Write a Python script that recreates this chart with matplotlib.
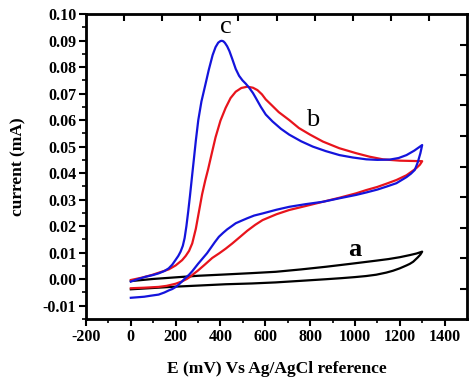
import numpy as np
import matplotlib
matplotlib.use("Agg")
import matplotlib.pyplot as plt

# ---- data ----
blue_E = [0, 30, 65, 100, 124, 150, 169, 185, 199, 212, 222, 232, 240, 248, 256, 264, 274, 281, 290, 301,
          315, 333, 348, 365, 378, 390, 400, 406, 413, 420, 430, 440, 452, 468, 483, 498, 513, 528, 545,
          558, 580, 602, 632, 670, 707, 760, 812, 870, 931, 990, 1051, 1100, 1155, 1195, 1230, 1265, 1300,
          1292, 1280, 1267, 1250, 1230, 1185, 1140, 1100, 1050, 1006, 930, 857, 780, 707, 650, 588, 550,
          520, 495, 468, 450, 430, 412, 393, 375, 360, 340, 320, 300, 287, 274, 260, 244, 229, 214, 199,
          185, 170, 150, 124, 90, 60, 30, 0]
blue_I = [-0.0009, 0.0000, 0.0009, 0.0016, 0.0022, 0.0031, 0.0041, 0.0055, 0.0072, 0.0088, 0.0104, 0.0126,
          0.0155, 0.0200, 0.0255, 0.0315, 0.0395, 0.0450, 0.0522, 0.0600,
          0.0670, 0.0735, 0.0790, 0.0845, 0.0875, 0.0892, 0.0898, 0.0899, 0.0897, 0.0891, 0.0878, 0.0860,
          0.0832, 0.0793, 0.0767, 0.0750, 0.0737, 0.0722, 0.0702,
          0.0683, 0.0650, 0.0621, 0.0595, 0.0567, 0.0545, 0.0520, 0.0500, 0.0483, 0.0468, 0.0459, 0.0452,
          0.0450, 0.0451, 0.0457, 0.0468, 0.0485, 0.0506,
          0.0475, 0.0440, 0.0412, 0.0398, 0.0385, 0.0362, 0.0349, 0.0338, 0.0327, 0.0318, 0.0305, 0.0292,
          0.0283, 0.0273, 0.0262, 0.0248, 0.0240,
          0.0230, 0.0221, 0.0211, 0.0200, 0.0188, 0.0175, 0.0160, 0.0140, 0.0122, 0.0098, 0.0078, 0.0058,
          0.0044, 0.0030, 0.0017, 0.0005, -0.0008, -0.0020, -0.0030,
          -0.0037, -0.0042, -0.0050, -0.0058, -0.0062, -0.0066, -0.0068, -0.0070]

red_E = [0, 50, 94, 130, 169, 200, 229, 245, 260, 274, 290, 304, 318, 332, 345, 360, 378, 400, 423, 445,
         468, 493, 520, 545, 565, 585, 602, 630, 660, 707, 750, 800, 857, 930, 1006, 1065, 1125, 1200,
         1250, 1300,
         1290, 1275, 1260, 1230, 1185, 1140, 1100, 1050, 1006, 930, 857, 780, 707, 650, 588, 555, 520,
         488, 453, 423, 395, 363, 330, 300, 280, 266, 250, 229, 200, 160, 124, 60, 0]
red_I = [-0.0003, 0.0006, 0.0016, 0.0026, 0.0037, 0.0052, 0.0072, 0.0088, 0.0107, 0.0135, 0.0190, 0.0255,
         0.0320, 0.0372, 0.0415, 0.0470, 0.0535, 0.0598, 0.0646, 0.0683,
         0.0707, 0.0721, 0.0726, 0.0722, 0.0713, 0.0697, 0.0678, 0.0655, 0.0630, 0.0600, 0.0570, 0.0545,
         0.0519, 0.0494, 0.0475, 0.0462, 0.0452, 0.0447,
         0.0446, 0.0445,
         0.0432, 0.0420, 0.0410, 0.0392, 0.0374, 0.0360, 0.0348, 0.0336, 0.0324, 0.0307, 0.0292, 0.0276,
         0.0261, 0.0245, 0.0223, 0.0205, 0.0183,
         0.0160, 0.0135, 0.0115, 0.0098, 0.0080, 0.0055, 0.0033, 0.0020, 0.0010, 0.0001, -0.0008, -0.0017,
         -0.0025, -0.0029, -0.0032, -0.0034]

black_E = [0, 100, 199, 300, 423, 540, 647, 760, 871, 980, 1095, 1150, 1200, 1245, 1275, 1300,
           1292, 1280, 1270, 1260, 1245, 1230, 1200, 1170, 1140, 1095, 1050, 1000, 940, 871, 760, 647,
           540, 423, 300, 199, 100, 0]
black_I = [-0.0007, 0.0001, 0.0007, 0.0013, 0.0018, 0.0023, 0.0028, 0.0037, 0.0047, 0.0058, 0.0070, 0.0076,
           0.0083, 0.0091, 0.0097, 0.0104,
           0.0093, 0.0082, 0.0074, 0.0066, 0.0058, 0.0052, 0.0041, 0.0032, 0.0025, 0.0017, 0.0012, 0.0008,
           0.0004, 0.0000, -0.0006, -0.0012,
           -0.0016, -0.0019, -0.0024, -0.0028, -0.0033, -0.0038]

x_ticks = [-200, 0, 200, 400, 600, 800, 1000, 1200, 1400]
y_ticks = [-0.01, 0.00, 0.01, 0.02, 0.03, 0.04, 0.05, 0.06, 0.07, 0.08, 0.09, 0.10]
y_tick_labels = ["-0.01", "0.00", "0.01", "0.02", "0.03", "0.04", "0.05", "0.06", "0.07", "0.08", "0.09", "0.10"]

plt.rcParams['font.family'] = ['Liberation Serif', 'DejaVu Serif']

fig = plt.figure(figsize=(4.74, 3.90), dpi=100)
ax = fig.add_axes([86 / 474, 1 - 319 / 390, (467 - 86) / 474, (319 - 14) / 390])

ax.plot(black_E, black_I, color='black', lw=1.6)
ax.plot(red_E, red_I, color='#e8141c', lw=1.6)
ax.plot(blue_E, blue_I, color='#1414dc', lw=1.6)

ax.set_xlim(-200, 1500)
ax.set_ylim(-0.015, 0.10)
ax.set_xticks(x_ticks)
ax.set_xticklabels([str(v) for v in x_ticks])
ax.set_xticks(np.arange(-100, 1500, 200), minor=True)
ax.set_yticks(y_ticks)
ax.set_yticklabels(y_tick_labels)
ax.set_yticks(np.arange(-0.015, 0.1, 0.01), minor=True)

for lab in ax.get_xticklabels() + ax.get_yticklabels():
    lab.set_fontweight('bold')
    lab.set_fontsize(11.5)

ax.tick_params(which='major', direction='out', length=5, width=1.5, pad=2)
ax.tick_params(which='minor', direction='out', length=3, width=1.2)
ax.tick_params(top=False, right=False)
for s in ax.spines.values():
    s.set_linewidth(2)

# mirrored ticks on top and right (10 equal divisions)
axt = ax.twiny()
axt.set_xlim(0, 1)
axt.set_xticks(np.arange(0.1, 0.95, 0.1))
axt.set_xticklabels([])
axt.tick_params(axis='x', direction='in', length=5, width=1.5)
axr = ax.twinx()
axr.set_ylim(0, 1)
axr.set_yticks(np.arange(0.1, 0.95, 0.1))
axr.set_yticklabels([])
axr.tick_params(axis='y', direction='in', length=5, width=1.5)

ax.set_xlabel('E (mV) Vs Ag/AgCl reference', fontsize=12.5, fontweight='bold', labelpad=12)
ax.set_ylabel('current (mA)', fontsize=12.5, fontweight='bold', labelpad=12)

ax.text(423, 0.0952, 'c', fontsize=19, ha='center', va='center')
ax.text(812, 0.0600, 'b', fontsize=19, ha='center', va='center')
ax.text(998, 0.0112, 'a', fontsize=19, fontweight='bold', ha='center', va='center')

fig.savefig('out.png', dpi=100)
